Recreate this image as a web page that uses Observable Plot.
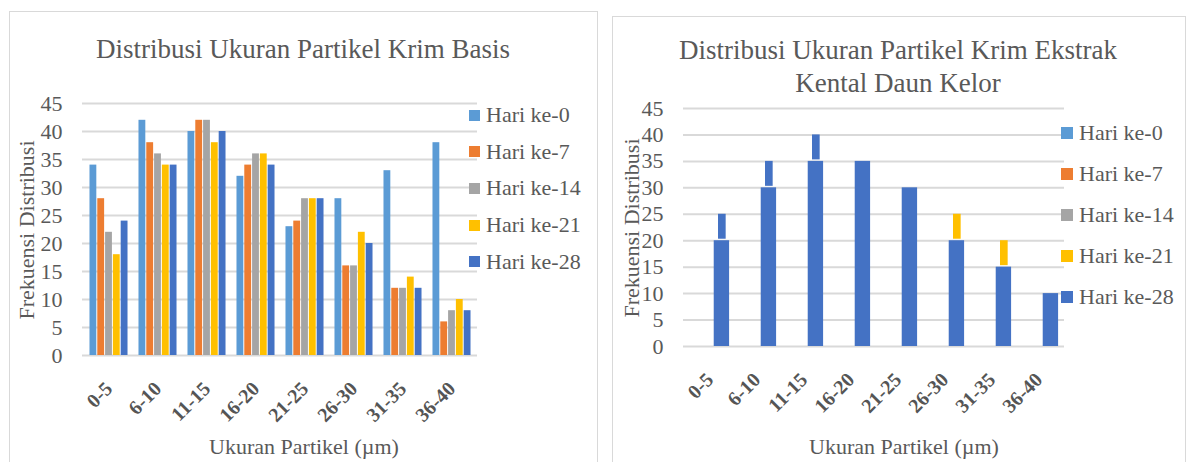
<!DOCTYPE html>
<html><head><meta charset="utf-8">
<script src="https://cdn.jsdelivr.net/npm/d3@7"></script>
<script src="https://cdn.jsdelivr.net/npm/@observablehq/plot@0.6"></script>
<style>
body{margin:0;background:#fff;font-family:"Liberation Serif","Times New Roman",serif;color:#595959;}
#page{position:relative;width:1189px;height:462px;overflow:hidden;background:#fff;}
.panel{position:absolute;border:1.5px solid #d9d9d9;box-sizing:border-box;background:#fff;}
.abs{position:absolute;white-space:nowrap;font-family:"Liberation Serif","Times New Roman",serif;color:#595959;}
.title{font-size:27px;line-height:33px;text-align:center;transform:translateX(-50%);}
.axt{font-size:22px;line-height:26px;}
.ytitle{transform:translate(-50%,-50%) rotate(-90deg);}
.xtitle{transform:translate(-50%,-50%);}
.leg{font-size:22px;line-height:26px;display:flex;align-items:center;transform:translateY(-50%);}
.leg span.t{font-family:"Liberation Serif","Times New Roman",serif;}
.sw{display:inline-block;margin-right:6px;}
svg{position:absolute;top:0;}
</style></head>
<body>
<div id="page">
  <div class="panel" style="left:9px;top:11px;width:589px;height:470px;"></div>
  <div class="panel" style="left:612px;top:16px;width:574px;height:470px;"></div>
</div>
<script>
// ---- data ----
const categories = ["0-5","6-10","11-15","16-20","21-25","26-30","31-35","36-40"];
const seriesNames = ["Hari ke-0","Hari ke-7","Hari ke-14","Hari ke-21","Hari ke-28"];
const seriesColors = ["#5b9bd5","#ed7d31","#a5a5a5","#ffc000","#4472c4"];
const yTicks = [0,5,10,15,20,25,30,35,40,45];

// Krim Basis
const basisHari0  = [34,42,40,32,23,28,33,38];
const basisHari7  = [28,38,42,34,24,16,12,6];
const basisHari14 = [22,36,42,36,28,16,12,8];
const basisHari21 = [18,34,38,36,28,22,14,10];
const basisHari28 = [24,34,40,34,28,20,12,8];

// Krim Ekstrak Kental Daun Kelor
const ekstrakHari28 = [20,30,35,35,30,20,15,10];
const ekstrakTopSeries = ["Hari ke-28","Hari ke-28","Hari ke-28",null,null,"Hari ke-21","Hari ke-21",null];
const ekstrakTopValues = [25,35,40,null,null,25,20,null];

const titleBasis = "Distribusi Ukuran Partikel Krim Basis";
const titleEkstrak = ["Distribusi Ukuran Partikel Krim Ekstrak","Kental Daun Kelor"];
const yTitle = "Frekuensi Distribusi";
const xTitle = "Ukuran Partikel (\u00b5m)";

// ---- build tables ----
const basisSeries = [basisHari0,basisHari7,basisHari14,basisHari21,basisHari28];
const basisRows = [];
seriesNames.forEach((s,i)=>categories.forEach((c,j)=>basisRows.push({cat:c,series:s,value:basisSeries[i][j]})));
const ekstrakRows = categories.map((c,j)=>({cat:c,series:"Hari ke-28",value:ekstrakHari28[j]}));
const ekstrakTopRows = categories.map((c,j)=>({cat:c,series:ekstrakTopSeries[j],base:ekstrakHari28[j],value:ekstrakTopValues[j]})).filter(d=>d.series);

const page = document.getElementById("page");
const font = "Liberation Serif, Times New Roman, serif";
const grey = "#595959";

function commonMarks(){
  return [
    Plot.gridY(yTicks,{stroke:"#d9d9d9",strokeOpacity:1,strokeWidth:2}),
  ];
}
function axes(){
  return [
    Plot.axisY(yTicks,{tickSize:0,tickPadding:20,fontSize:22,fill:grey,label:null}),
    Plot.axisX({tickSize:0,tickPadding:30,tickRotate:-45,fontSize:20,fontWeight:"bold",fill:"#555",label:null,textAnchor:"end",lineAnchor:"middle"})
  ];
}

// ---- left chart ----
{
  const W=600,H=462,mL=82,mR=123,mT=103,mB=107;
  const band=(W-mL-mR)/categories.length;
  const group=band*0.79, bw=group/5, off=(band-group)/2;
  const marks=[...commonMarks()];
  seriesNames.forEach((s,i)=>{
    marks.push(Plot.barY(basisRows.filter(d=>d.series===s),{x:"cat",y:"value",fill:"series",
      insetLeft:off+bw*i+0.3,insetRight:band-off-bw*(i+1)+0.3}));
  });
  marks.push(...axes());
  const svg=Plot.plot({width:W,height:H,marginLeft:mL,marginRight:mR,marginTop:mT,marginBottom:mB,
    style:{fontFamily:font,color:grey,background:"transparent",overflow:"visible"},
    x:{type:"band",domain:categories,padding:0},
    y:{domain:[0,45]},
    color:{domain:seriesNames,range:seriesColors},
    marks});
  svg.style.left="0px";
  page.appendChild(svg);
}

// ---- right chart ----
{
  const W=589,H=462,mL=83,mR=125,mT=108,mB=116;
  const band=(W-mL-mR)/categories.length;
  const marks=[...commonMarks()];
  marks.push(Plot.barY(ekstrakTopRows,{x:"cat",y1:"base",y2:"value",fill:"series",
    insetLeft:band*0.672,insetRight:band*(1-0.672-0.174),insetBottom:1.5}));
  marks.push(Plot.barY(ekstrakRows,{x:"cat",y:"value",fill:"series",
    insetLeft:band*0.582,insetRight:band*(1-0.582-0.336)}));
  marks.push(...axes());
  const svg=Plot.plot({width:W,height:H,marginLeft:mL,marginRight:mR,marginTop:mT,marginBottom:mB,
    style:{fontFamily:font,color:grey,background:"transparent",overflow:"visible"},
    x:{type:"band",domain:categories,padding:0},
    y:{domain:[0,45]},
    color:{domain:seriesNames,range:seriesColors},
    marks});
  svg.style.left="600px";
  page.appendChild(svg);
}

// ---- html text: titles, axis titles, legends ----
function addDiv(cls,html,style){
  const d=document.createElement("div");
  d.className="abs "+cls; d.innerHTML=html; Object.assign(d.style,style); page.appendChild(d); return d;
}
addDiv("title",titleBasis,{left:"303px",top:"33px"});
addDiv("title",titleEkstrak.join("<br>"),{left:"898px",top:"34px"});
addDiv("axt ytitle",yTitle,{left:"27px",top:"230px"});
addDiv("axt ytitle",yTitle,{left:"632px",top:"228px"});
addDiv("axt xtitle",xTitle,{left:"304px",top:"447px"});
addDiv("axt xtitle",xTitle,{left:"904px",top:"447px"});

function legend(x,y0,step,size){
  seriesNames.forEach((s,i)=>{
    addDiv("leg",`<span class="sw" style="width:${size}px;height:${size}px;background:${seriesColors[i]}"></span><span class="t">${s}</span>`,
      {left:x+"px",top:(y0+step*i)+"px"});
  });
}
legend(469,115,36.7,11);
legend(1061,133,41,12);
</script>
</body></html>
